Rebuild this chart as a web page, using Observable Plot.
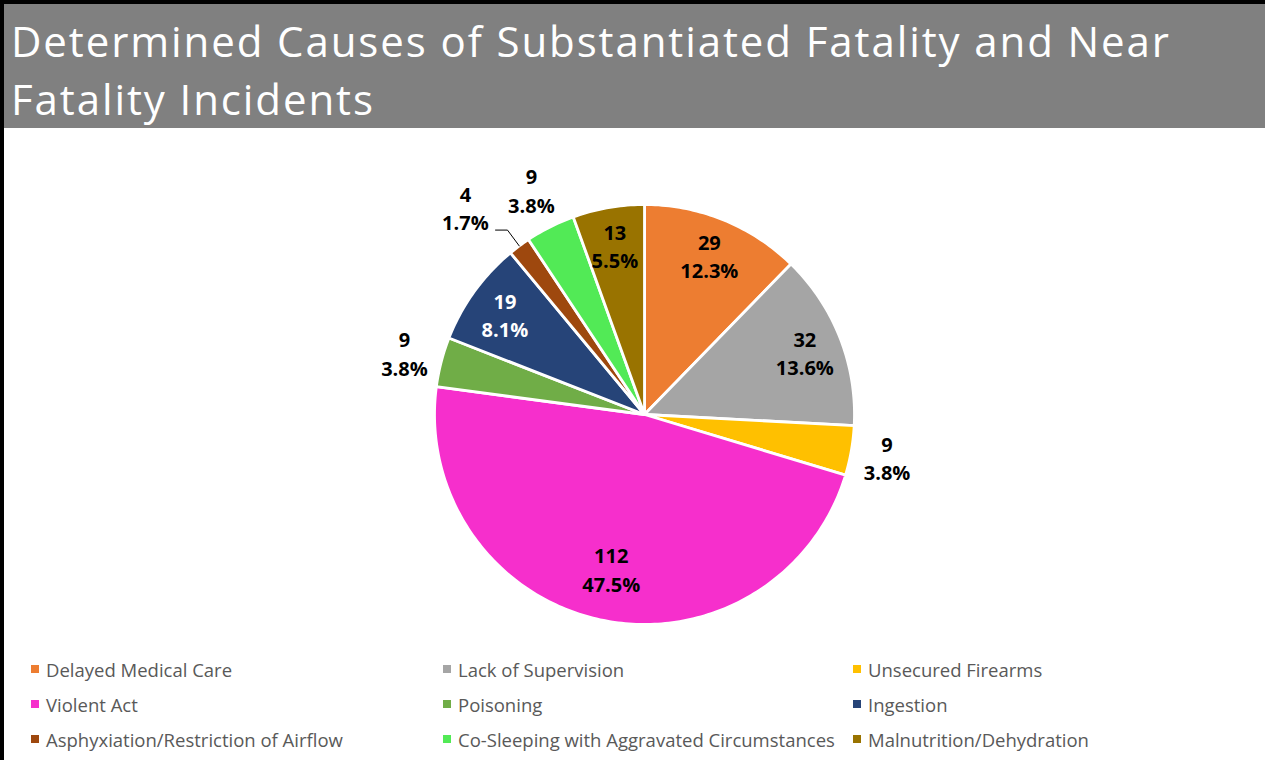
<!DOCTYPE html>
<html>
<head>
<meta charset="utf-8">
<script src="https://cdn.jsdelivr.net/npm/d3@7"></script>
<script src="https://cdn.jsdelivr.net/npm/@observablehq/plot@0.6"></script>
<style>
  html, body { margin: 0; padding: 0; background: #fff; }
  #frame { position: relative; width: 1261px; height: 756px; border-left: 4px solid #000; border-top: 4px solid #000; overflow: hidden; background: #fff; }
  #title { background: #808080; color: #fff; font-family: "Open Sans", sans-serif; font-size: 42px; line-height: 58px; height: 116px; padding: 8px 0 0 7px; letter-spacing: 1.9px; box-sizing: content-box; }
  #chart { position: absolute; left: 0; top: 124px; }
  #legend { position: absolute; left: 0; top: 0; width: 1261px; height: 756px; pointer-events: none; font-family: "Open Sans", sans-serif; font-size: 18.5px; color: #595959; }
  .item { position: absolute; display: flex; align-items: center; white-space: nowrap; }
  .sw { width: 8px; height: 8px; margin-right: 7px; }
</style>
</head>
<body>
<div id="frame">
  <div id="title"></div>
  <div id="chart"></div>
  <div id="legend"></div>
</div>
<script>
const titleLines = ["Determined Causes of Substantiated Fatality and Near", "Fatality Incidents"];
const categories = [
  "Delayed Medical Care", "Lack of Supervision", "Unsecured Firearms",
  "Violent Act", "Poisoning", "Ingestion",
  "Asphyxiation/Restriction of Airflow", "Co-Sleeping with Aggravated Circumstances", "Malnutrition/Dehydration"
];
const values = [29, 32, 9, 112, 9, 19, 4, 9, 13];
const colors = ["#ED7D31", "#A5A5A5", "#FFC000", "#F62FCC", "#70AD47", "#264478", "#9E480E", "#52EA56", "#997300"];

document.getElementById("title").innerHTML = titleLines.join("<br>");

const W = 1261, H = 512, R = 210, cx = 640, cy = 286;
const total = d3.sum(values);
const pct = d3.format(".1%");
const arcs = d3.pie().sort(null).value(d => d)(values);

// slice outlines (unit circle geometry, y up)
const pts = [];
arcs.forEach((a, i) => {
  const cat = categories[i];
  pts.push({cat, x: 0, y: 0});
  const n = Math.max(2, Math.ceil((a.endAngle - a.startAngle) / (Math.PI / 180)) + 1);
  for (let k = 0; k <= n; k++) {
    const t = a.startAngle + (a.endAngle - a.startAngle) * k / n;
    pts.push({cat, x: Math.sin(t), y: Math.cos(t)});
  }
  pts.push({cat, x: 0, y: 0});
});

const labels = arcs.map((a, i) => {
  const v = values[i];
  const mid = (a.startAngle + a.endAngle) / 2;
  const small = v < 5, outside = v < 10;
  const ang = small ? mid - 4.2 * Math.PI / 180 : mid;
  let r;
  if (small) r = 1.305;
  else if (outside) r = (R + 6 + Math.abs(Math.sin(mid)) * 26 + Math.abs(Math.cos(mid)) * 27) / R;
  else r = v / total > 0.4 ? 0.75 : 0.82;
  const lab = d3.lab(colors[i]).l;
  return {
    cat: categories[i], mid, small,
    x: Math.sin(ang) * r, y: Math.cos(ang) * r,
    text: `${v}\n${pct(v / total)}`,
    ink: (!outside && lab < 40) ? "#fff" : "#000"
  };
});

const leaders = [];
labels.filter(d => d.small).forEach(d => {
  const ex = Math.sin(d.mid), ey = Math.cos(d.mid);
  const bx = Math.sin(d.mid) * 1.094, by = Math.cos(d.mid) * 1.094;
  leaders.push({cat: d.cat, x: ex, y: ey});
  leaders.push({cat: d.cat, x: bx, y: by});
  leaders.push({cat: d.cat, x: bx - 0.057, y: by});
});

const plot = Plot.plot({
  width: W, height: H,
  margin: 0,
  x: {domain: [-cx / R, (W - cx) / R], axis: null},
  y: {domain: [-(H - cy) / R, cy / R], axis: null},
  color: {domain: categories, range: colors},
  style: {fontFamily: "'Open Sans', sans-serif", background: "transparent"},
  marks: [
    Plot.line(pts, {x: "x", y: "y", z: "cat", fill: "cat", stroke: "#fff", strokeWidth: 2.8, strokeLinejoin: "round", curve: "linear"}),
    Plot.line(leaders, {x: "x", y: "y", z: "cat", stroke: "#000", strokeWidth: 1}),
    Plot.text(labels, {x: "x", y: "y", text: "text", fill: d => d.ink, fontSize: 20, fontWeight: "bold", lineHeight: 1.42})
  ]
});
document.getElementById("chart").appendChild(plot);

const legend = document.getElementById("legend");
const colX = [27, 439, 849], rowY = [665, 700, 735];
categories.forEach((c, i) => {
  const el = document.createElement("div");
  el.className = "item";
  el.style.left = colX[i % 3] + "px";
  el.style.top = (rowY[Math.floor(i / 3)] - 12) + "px";
  el.style.height = "24px";
  el.innerHTML = `<span class="sw" style="background:${colors[i]}"></span><span>${c}</span>`;
  legend.appendChild(el);
});
</script>
</body>
</html>
